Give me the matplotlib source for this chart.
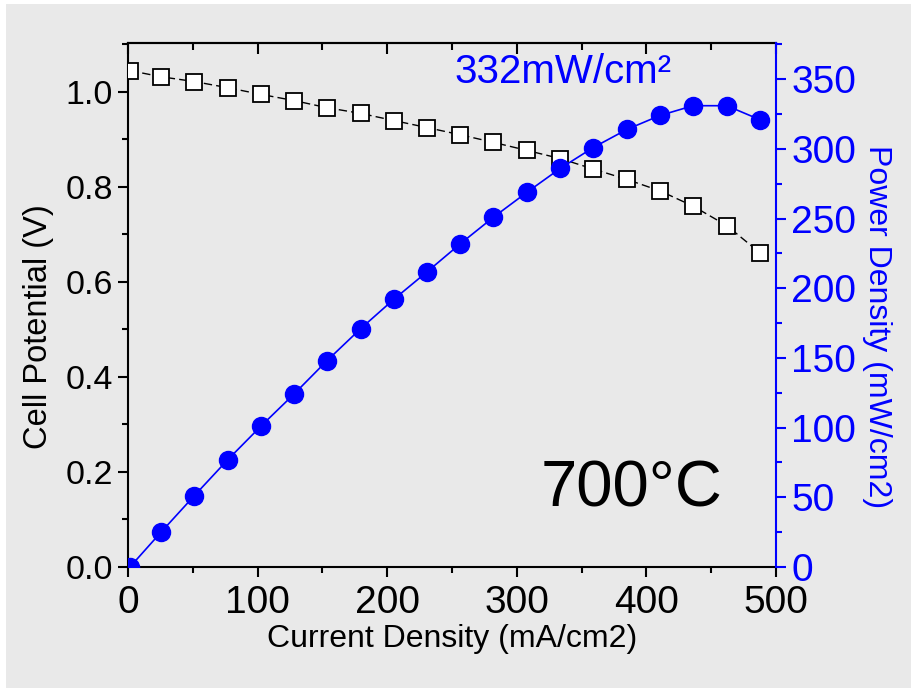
import matplotlib
matplotlib.use("Agg")
import matplotlib.pyplot as plt
from matplotlib.patches import Rectangle
from matplotlib.ticker import MultipleLocator

plt.rcParams["font.family"] = ["Liberation Sans", "DejaVu Sans"]

# current density (mA/cm2)
current = [1.5, 25.5, 51, 77, 102.5, 128, 153.5, 179.5, 205, 231, 256.5, 282,
           308, 333.5, 359, 385, 410.5, 436, 462, 487.5]
# cell potential (V)
voltage = [1.044, 1.031, 1.021, 1.008, 0.994, 0.981, 0.966, 0.954, 0.939, 0.924,
           0.909, 0.893, 0.876, 0.859, 0.837, 0.815, 0.791, 0.759, 0.718, 0.661]
# power density (mW/cm2)
power = [0, 25, 51, 77, 101, 124, 148, 171, 192, 212,
         232, 251, 269, 286, 301, 314, 324, 331, 331, 321]

peak_label = "332mW/cm²"
temp_label = "700°C"

BLUE = "#0000ff"
BG = "#e9e9e9"

fig = plt.figure(figsize=(9.11, 6.88), dpi=100)
fig.patch.set_facecolor("white")
# grey panel (thin white strip on top and left like the original)
fig.patches.append(Rectangle((6 / 911, 0), 1, 1 - 4 / 688, transform=fig.transFigure,
                             facecolor=BG, edgecolor="none", zorder=-10))

ax = fig.add_axes([128 / 911, 121 / 688, 648 / 911, 524 / 688])
ax.set_facecolor(BG)
ax.plot(current, voltage, color="black", lw=1.0, ls=(0, (6, 3)),
        marker="s", ms=11, mfc="white", mec="black", mew=1.3, zorder=3)
ax.set_xlim(0, 500)
ax.set_ylim(0, 1.102)
ax.xaxis.set_major_locator(MultipleLocator(100))
ax.xaxis.set_minor_locator(MultipleLocator(50))
ax.yaxis.set_major_locator(MultipleLocator(0.2))
ax.yaxis.set_minor_locator(MultipleLocator(0.1))
ax.yaxis.set_major_formatter(lambda v, p: f"{v:.1f}")
ax.tick_params(axis="x", which="major", direction="out", length=7, width=1.5,
               labelsize=28, pad=6)
ax.tick_params(axis="x", which="minor", direction="out", length=4, width=1.5)
ax.tick_params(axis="y", which="major", direction="out", length=7, width=1.5,
               labelsize=24.5, pad=4)
ax.tick_params(axis="y", which="minor", direction="out", length=4, width=1.5)
for s in ["left", "bottom", "top"]:
    ax.spines[s].set_linewidth(1.5)
ax.spines["right"].set_visible(False)

top = ax.secondary_xaxis("top")
top.xaxis.set_major_locator(MultipleLocator(100))
top.xaxis.set_minor_locator(MultipleLocator(50))
top.tick_params(which="major", direction="in", length=8, width=1.5, labeltop=False)
top.tick_params(which="minor", direction="in", length=5, width=1.5)
top.spines["top"].set_linewidth(1.5)

ax.set_xlabel("Current Density (mA/cm2)", fontsize=23, labelpad=2)
ax.set_ylabel("Cell Potential (V)", fontsize=23.5)
ax.yaxis.set_label_coords(-0.114, 0.458)

ax2 = ax.twinx()
ax2.plot(current, power, color=BLUE, lw=1.2, marker="o", ms=13,
         mfc=BLUE, mec=BLUE, zorder=3)
ax2.set_ylim(0, 376)
ax2.yaxis.set_major_locator(MultipleLocator(50))
ax2.yaxis.set_minor_locator(MultipleLocator(25))
ax2.tick_params(axis="y", which="major", direction="out", length=7, width=1.5,
                labelsize=28, colors=BLUE, pad=4)
ax2.tick_params(axis="y", which="minor", direction="out", length=4, width=1.5,
                colors=BLUE)
ax2.spines["right"].set_color(BLUE)
ax2.spines["right"].set_linewidth(1.5)
for s in ["left", "bottom", "top"]:
    ax2.spines[s].set_visible(False)
ax2.set_ylabel("Power Density (mW/cm2)", fontsize=23, color=BLUE,
               rotation=-90, va="bottom")
ax2.yaxis.set_label_coords(1.133, 0.458)

ax2.text(252, 355, peak_label, fontsize=29, color=BLUE, ha="left", va="center")
ax.text(318, 0.162, temp_label, fontsize=47, color="black", ha="left", va="center")

fig.savefig("out.png", dpi=100, facecolor=fig.get_facecolor())
